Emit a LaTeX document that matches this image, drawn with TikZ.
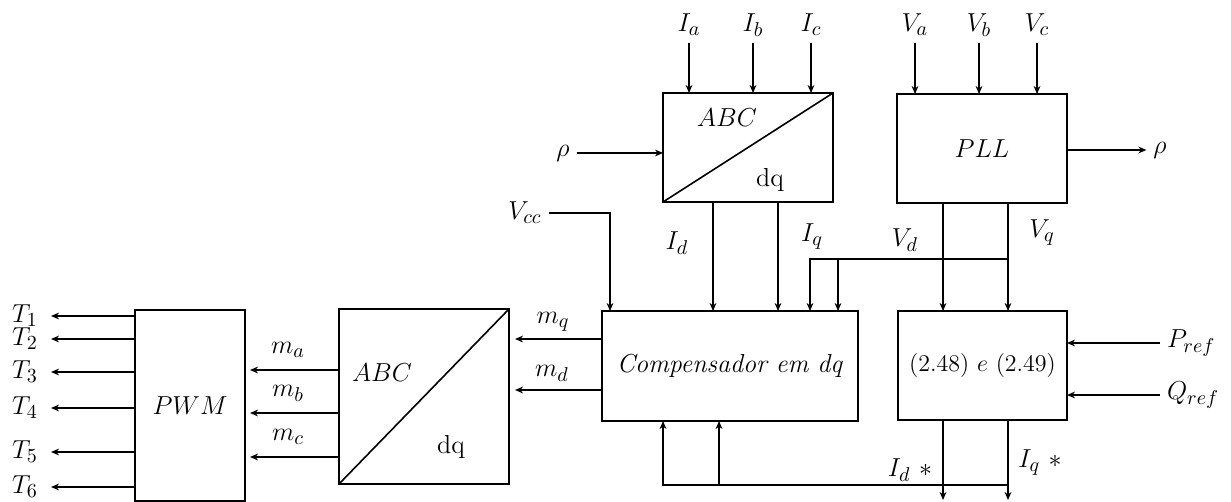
\RequirePackage{fix-cm}
\documentclass[tikz,border=0pt]{standalone}
\usetikzlibrary{arrows.meta}
\DeclareMathSizes{13}{13}{10}{7}
\DeclareMathSizes{12}{12}{9}{7}

\tikzset{
  bloco/.style={draw, line width=1pt, inner sep=0pt, outer sep=0pt},
  sinal/.style={line width=0.8pt, -{Stealth[length=4pt,width=3.4pt]}},
}

\begin{document}
\begin{tikzpicture}[x=0.5pt, y=-0.5pt, font=\fontsize{13}{15}\selectfont]
    \useasboundingbox (0,0) rectangle (1231,502);

    % -------------------------------
    % blocos
    % -------------------------------
    \node[bloco, minimum width=85pt, minimum height=54.5pt] (tabc) at (748,147.5) {};
    \node[bloco, minimum width=85pt, minimum height=54.5pt] (pll) at (982,148.5) {$PLL$};
    \node[bloco, minimum width=128pt, minimum height=55pt] (comp) at (730,366) {\textit{Compensador em dq}};
    \node[bloco, minimum width=84.5pt, minimum height=54.5pt, font=\fontsize{12}{14}\selectfont] (calc) at (982.5,365.5) {$(2.48)\ e\ (2.49)$};
    \node[bloco, minimum width=85pt, minimum height=87.5pt] (abcb) at (424,396.5) {};
    \node[bloco, minimum width=55pt, minimum height=95.5pt] (pwm) at (190,405.5) {$PWM$};

    % transformadas
    \draw[line width=0.8pt] (tabc.south west) -- (tabc.north east);
    \node (tabcA) at (727,118) {$ABC$};
    \node (tabcB) at (770,180) {dq};
    \draw[line width=0.8pt] (abcb.south west) -- (abcb.north east);
    \node (abcbA) at (382,373) {$ABC$};
    \node (abcbB) at (451,447) {dq};

    % -------------------------------
    % entradas de cima
    % -------------------------------
    \foreach \n/\x in {a/689, b/753, c/811} {
        \node (i\n) at (\x,25) {$I_\n$};
        \draw[sinal] (i\n.south) -- (tabc.north -| i\n.south);
    }
    \foreach \n/\x in {a/915, b/979, c/1037} {
        \node (v\n) at (\x,25) {$V_\n$};
        \draw[sinal] (v\n.south) -- (pll.north -| v\n.south);
    }

    \node (rhoin) at (563,153) {$\rho$};
    \draw[sinal] (rhoin.east) -- (rhoin.east -| tabc.west);
    \node (rhoout) at (1160,150) {$\rho$};
    \draw[sinal] (pll.east |- rhoout) -- (rhoout.west);

    % -------------------------------
    % sinais dq
    % -------------------------------
    \node (vcc) at (525,213) {$V_{cc}$};
    \draw[sinal] (vcc.east) -| (comp.north -| 610,0);

    \node (id) at (677,243) {$I_d$};
    \draw[sinal] (tabc.south -| 713,0) -- (comp.north -| 713,0);
    \draw[sinal] (tabc.south -| 778,0) -- (comp.north -| 778,0);

    \node (iq) at (812,237) {$I_q$};
    \node (vd) at (905,240) {$V_d$};
    \node (vq) at (1042,233) {$V_q$};
    \coordinate (jq) at (1008,259);
    \draw[sinal] (pll.south -| 943,0) -- (calc.north -| 943,0);
    \draw[sinal] (pll.south -| jq) -- (calc.north -| jq);
    \draw[sinal] (jq) -| (comp.north -| 810,0);
    \draw[sinal] (jq -| 838,0) -- (comp.north -| 838,0);

    % referencias
    \node[anchor=west] (pref) at (1160,343) {$P_{ref}$};
    \draw[sinal] (pref.west) -- (calc.east |- pref.west);
    \node[anchor=west] (qref) at (1160,395) {$Q_{ref}$};
    \draw[sinal] (qref.west) -- (calc.east |- qref.west);

    % realimentacao
    \coordinate (idout) at (943,500);
    \coordinate (iqout) at (1008,500);
    \draw[sinal] (calc.south -| idout) -- (idout);
    \draw[sinal] (calc.south -| iqout) -- (iqout);
    \draw[sinal] (iqout |- 0,485) -| (comp.south -| 663,0);
    \draw[sinal] (719,485) -- (comp.south -| 719,0);
    \node (idref) at (910,470) {$I_d\ *$};
    \node (iqref) at (1040,463) {$I_q\ *$};

    % -------------------------------
    % moduladoras e PWM
    % -------------------------------
    \node (mq) at (553,322) {$m_q$};
    \draw[sinal, shorten >=3pt] (comp.west |- 0,339) -- (abcb.east |- 0,339);
    \node (md) at (552,373) {$m_d$};
    \draw[sinal, shorten >=3pt] (comp.west |- 0,390) -- (abcb.east |- 0,390);

    \foreach \n/\y in {a/370, b/413, c/457} {
        \node (m\n) at (288,\y-20) {$m_\n$};
        \draw[sinal, shorten >=2.5pt] (abcb.west |- 0,\y) -- (pwm.east |- 0,\y);
    }

    \foreach \k/\y in {1/316, 2/339, 3/372, 4/408, 5/452, 6/487} {
        \node (t\k) at (25,\y) {$T_\k$};
        \draw[sinal, shorten >=3pt] (pwm.west |- t\k) -- (t\k.east);
    }

\end{tikzpicture}
\end{document}
